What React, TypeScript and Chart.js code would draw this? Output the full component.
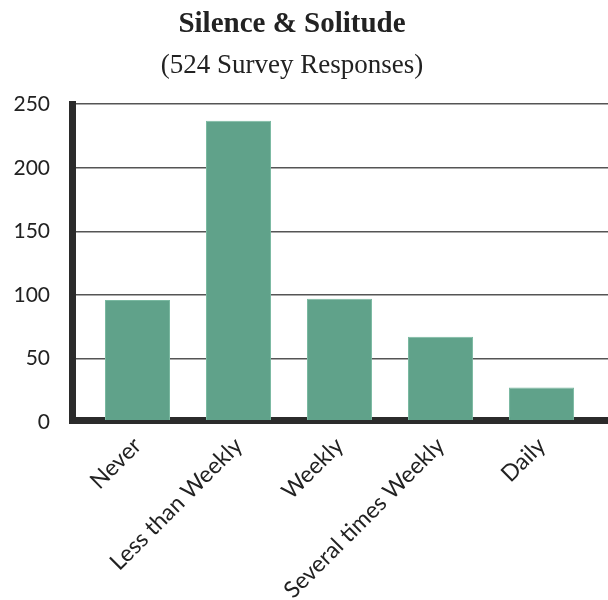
import React, { useEffect, useRef } from 'react';
import { Chart, registerables } from 'chart.js';

Chart.register(...registerables);

const categories = ['Never', 'Less than Weekly', 'Weekly', 'Several times Weekly', 'Daily'];
const responses = [96, 237, 97, 67, 27];
const yTicks = [0, 50, 100, 150, 200, 250];
const titleText = 'Silence & Solitude';
const subtitleText = '(524 Survey Responses)';

export default function App() {
  const ref = useRef<HTMLCanvasElement>(null);

  useEffect(() => {
    const chart = new Chart(ref.current as HTMLCanvasElement, {
      type: 'bar',
      data: {
        datasets: [
          {
            data: responses.map((v, i) => ({ x: i, y: v })),
            backgroundColor: '#60a28a',
            borderColor: '#7ab9a1',
            borderWidth: 1,
            categoryPercentage: 1,
            barPercentage: 0.644,
          },
        ],
      },
      options: {
        animation: false,
        responsive: true,
        maintainAspectRatio: false,
        layout: { padding: 0 },
        plugins: {
          legend: { display: false },
          tooltip: { enabled: false },
          title: {
            display: true,
            text: titleText,
            color: '#222',
            font: { family: 'Liberation Serif', size: 29, weight: 'bold' },
            padding: { top: 7, bottom: 4 },
          },
          subtitle: {
            display: true,
            text: subtitleText,
            color: '#222',
            font: { family: 'Liberation Serif', size: 27, weight: 'normal' },
            padding: { top: 4, bottom: 22 },
          },
        },
        scales: {
          x: {
            type: 'linear',
            offset: false,
            min: -0.6485,
            max: 4.658,
            z: 1,
            grid: { display: true, offset: false, drawOnChartArea: false, drawTicks: false, color: 'rgba(0,0,0,0)' },
            border: { display: true, width: 7, color: '#2b2b2b' },
            afterBuildTicks: (axis: any) => {
              axis.ticks = categories.map((_, i) => ({ value: i }));
            },
            afterFit: (axis: any) => {
              axis.height = 180;
            },
            ticks: {
              autoSkip: false,
              minRotation: 45,
              maxRotation: 45,
              padding: 12,
              color: '#222',
              font: { family: 'Lato', size: 23 },
              callback: (v: any) => categories[v] ?? '',
            },
          },
          y: {
            min: 1.5,
            max: 250,
            afterBuildTicks: (axis: any) => {
              axis.ticks = yTicks.map((v) => ({ value: v }));
            },
            afterFit: (axis: any) => {
              axis.width = 96;
            },
            grid: { color: '#555', lineWidth: 1.5, drawTicks: false },
            border: { display: true, width: 7, color: '#2b2b2b' },
            ticks: {
              padding: 22,
              color: '#222',
              font: { family: 'Lato', size: 21 },
            },
          },
        },
      },
    } as any);
    return () => chart.destroy();
  }, []);

  return (
    <div style={{ position: 'absolute', left: -24, top: 0, width: 632, height: 600 }}>
      <canvas ref={ref} />
    </div>
  );
}
